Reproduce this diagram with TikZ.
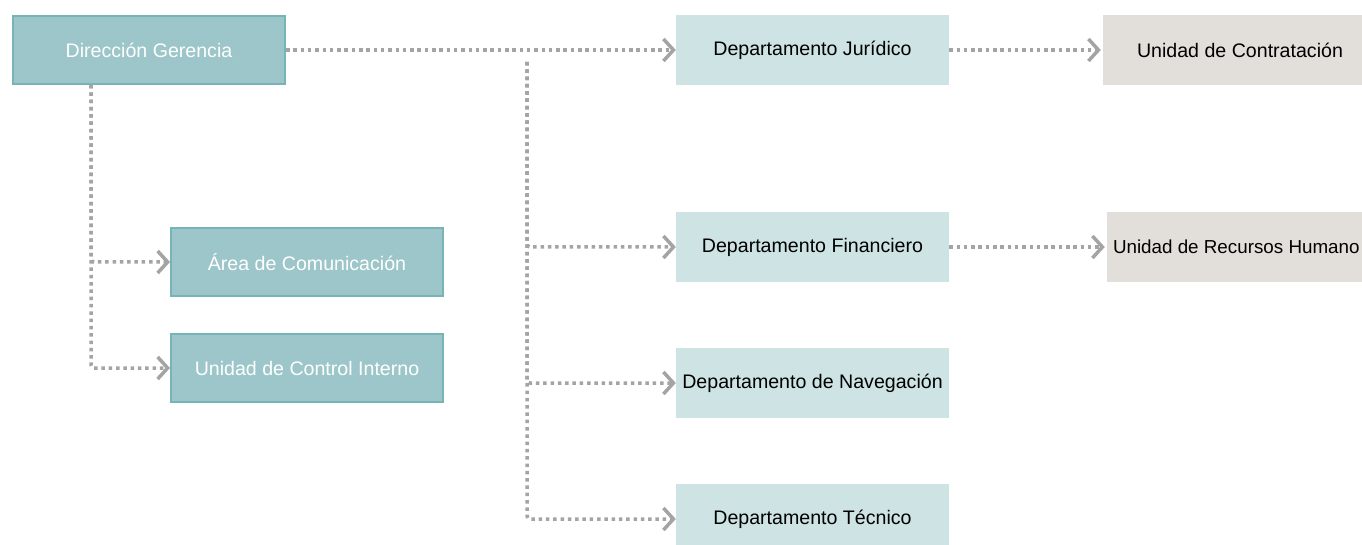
\documentclass[tikz,border=0pt]{standalone}
\usepackage{fontspec}
\setmainfont{Liberation Sans}
\usetikzlibrary{arrows.meta,positioning}
\definecolor{tealbox}{HTML}{9CC6C9}
\definecolor{tealline}{HTML}{76B4B6}
\definecolor{deptbox}{HTML}{CEE3E3}
\definecolor{unitbox}{HTML}{E2DFDA}
\definecolor{linkgray}{HTML}{A4A4A4}
\tikzset{
  head/.style={
    draw=tealline,
    line width=2pt,
    fill=tealbox,
    text=white,
    minimum width=272pt,
    minimum height=68pt,
    font=\fontsize{19.6}{24}\selectfont
  },
  dept/.style={
    fill=deptbox,
    text=black,
    inner sep=2pt,
    minimum width=273pt,
    minimum height=70pt,
    font=\fontsize{19.6}{24}\selectfont
  },
  unit/.style={
    fill=unitbox,
    text=black,
    minimum width=274pt,
    minimum height=70pt,
    font=\fontsize{19.6}{24}\selectfont
  },
  link/.style={
    draw=linkgray,
    line width=3.5pt,
    dash pattern=on 3.5pt off 3.8pt,
    rounded corners=3pt,
    -{Straight Barb[length=10pt,width=22pt,line width=3.5pt]}
  }
}

\begin{document}
\begin{tikzpicture}[x=1pt,y=-1pt]
  \useasboundingbox (0,0) rectangle (1362,545);
  \clip (0,0) rectangle (1362,545);

  % left column
  \node[head] (dg) at (149,50) {Dirección Gerencia};
  \node[head] (area) at (307,262) {Área de Comunicación};
  \node[head] (ctrl) at (307,368) {Unidad de Control Interno};

  % departments
  \node[dept] (jur) at (812.5,50) {Departamento Jurídico};
  \node[dept] (fin) at (812.5,247) {Departamento Financiero};
  \node[dept] (nav) at (812.5,383) {Departamento de Navegación};
  \node[dept] (tec) at (812.5,519) {Departamento Técnico};

  % units
  \node[unit] (contr) at (1240,50) {Unidad de Contratación};
  \node[unit] (rrhh) at (1244,247) {};
  \node[font=\fontsize{18.8}{24}\selectfont, anchor=west, inner sep=0pt] (rrhhtext)
    at ([xshift=6pt]rrhh.west) {Unidad de Recursos Humano};

  % connectors
  \draw[link] (dg.east) -- (jur.west);
  \draw[link] (jur.east) -- ([xshift=-2pt]contr.west);
  \draw[link] (fin.east) -- ([xshift=-2pt]rrhh.west);

  \coordinate (split) at ([yshift=-12pt]dg.east -| 527,0);
  \draw[link] (split) |- (fin.west);
  \draw[link] (split) |- (nav.west);
  \draw[link] (split) |- (tec.west);

  \coordinate (drop) at ([xshift=-58pt]dg.south);
  \draw[link] (drop) |- (area.west);
  \draw[link] (drop) |- (ctrl.west);
\end{tikzpicture}
\end{document}
